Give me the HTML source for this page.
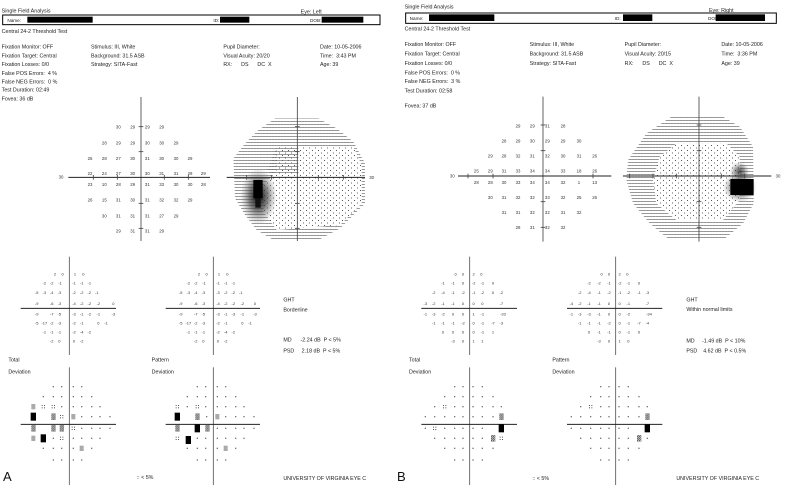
<!DOCTYPE html>
<html><head><meta charset="utf-8"><style>
html,body{margin:0;padding:0;background:#fff;}
svg{display:block;font-family:"Liberation Sans",sans-serif;}
text{fill:#222;white-space:pre;}
.h{font-size:16px;}
.n{font-size:13px;text-anchor:middle;fill:#333;}
.v{font-size:12px;text-anchor:middle;fill:#333;}
</style></head><body>
<svg width="785" height="485" viewBox="0 0 785 485" xmlns="http://www.w3.org/2000/svg">
<defs>
<pattern id="pd" width="9" height="9" patternUnits="userSpaceOnUse"><rect x="0" y="0" width="2.5" height="2.5" fill="#666"/><rect x="3" y="0" width="2.5" height="2.5" fill="#777"/><rect x="6" y="0" width="2.5" height="2.5" fill="#666"/></pattern>
<pattern id="ps" width="18" height="15" patternUnits="userSpaceOnUse"><rect x="0" y="0" width="3" height="3" fill="#555"/><rect x="9" y="7.5" width="3" height="3" fill="#666"/></pattern>
<pattern id="pk" width="6" height="6" patternUnits="userSpaceOnUse"><rect width="3" height="3" fill="#111"/><rect x="3" y="3" width="3" height="3" fill="#333"/></pattern>
<radialGradient id="blob"><stop offset="0" stop-color="#000"/><stop offset="0.5" stop-color="#444" stop-opacity="0.7"/><stop offset="1" stop-color="#888" stop-opacity="0"/></radialGradient>
<g id="d"><rect x="-2" y="-2" width="4" height="4" fill="#777"/></g>
<g id="c"><rect x="-5" y="-5" width="3" height="3" fill="#555"/><rect x="2" y="-5" width="3" height="3" fill="#555"/><rect x="-5" y="2" width="3" height="3" fill="#555"/><rect x="2" y="2" width="3" height="3" fill="#555"/></g>
<g id="k"><rect x="-6" y="-8" width="12" height="16" fill="#aaa"/></g>
<g id="hv"><rect x="-6" y="-10" width="13" height="20" fill="url(#pk)"/></g>
<g id="b"><rect x="-8" y="-12" width="16" height="24" fill="#000"/></g>
</defs>

<!-- ================= LEFT PANEL ================= -->
<g transform="scale(0.33333)">
<text class="h" x="5" y="37">Single Field Analysis</text>
<text class="h" x="902" y="40">Eye: Left</text>
<rect x="8" y="45" width="1132" height="29" fill="none" stroke="#000" stroke-width="3"/>
<text class="h" x="22" y="66" style="font-size:14px">Name:</text>
<rect x="82" y="50" width="196" height="18" fill="#000"/>
<text class="h" x="640" y="66" style="font-size:14px">ID:</text>
<rect x="660" y="50" width="88" height="18" fill="#000"/>
<text class="h" x="930" y="66" style="font-size:14px">DOB:</text>
<rect x="965" y="50" width="125" height="18" fill="#000"/>
<text class="h" x="5" y="99">Central 24-2 Threshold Test</text>
<text class="h" x="5" y="145">Fixation Monitor: OFF</text>
<text class="h" x="5" y="172">Fixation Target: Central</text>
<text class="h" x="5" y="198">Fixation Losses: 0/0</text>
<text class="h" x="5" y="225">False POS Errors:  4 %</text>
<text class="h" x="5" y="250">False NEG Errors:  0 %</text>
<text class="h" x="5" y="275">Test Duration: 02:49</text>
<text class="h" x="5" y="302">Fovea: 36 dB</text>
<text class="h" x="273" y="145">Stimulus: III, White</text>
<text class="h" x="273" y="172">Background: 31.5 ASB</text>
<text class="h" x="273" y="198">Strategy: SITA-Fast</text>
<text class="h" x="670" y="145">Pupil Diameter:</text>
<text class="h" x="670" y="172">Visual Acuity: 20/20</text>
<text class="h" x="670" y="198">RX:      DS      DC  X</text>
<text class="h" x="960" y="145">Date: 10-05-2006</text>
<text class="h" x="960" y="172">Time:  3:43 PM</text>
<text class="h" x="960" y="198">Age: 39</text>
</g>

<g transform="translate(60,115) scale(0.33333)">
<line x1="243" y1="-54" x2="243" y2="378" stroke="#444" stroke-width="2.5"/>
<line x1="25" y1="187" x2="450" y2="187" stroke="#222" stroke-width="3"/>
<g stroke="#444" stroke-width="2.5"><line x1="100" y1="180" x2="100" y2="194"/><line x1="172" y1="180" x2="172" y2="194"/><line x1="313" y1="180" x2="313" y2="194"/><line x1="385" y1="180" x2="385" y2="194"/><line x1="236" y1="35" x2="250" y2="35"/><line x1="236" y1="110" x2="250" y2="110"/><line x1="236" y1="265" x2="250" y2="265"/><line x1="236" y1="340" x2="250" y2="340"/></g>
<text class="n" x="3" y="191">30</text>
<text class="n" x="175" y="40">30</text><text class="n" x="218" y="40">29</text><text class="n" x="262" y="40">29</text><text class="n" x="305" y="40">29</text>
<text class="n" x="133" y="88">28</text><text class="n" x="175" y="88">29</text><text class="n" x="218" y="88">29</text><text class="n" x="262" y="88">30</text><text class="n" x="305" y="88">30</text><text class="n" x="348" y="88">29</text>
<text class="n" x="90" y="135">25</text><text class="n" x="133" y="135">28</text><text class="n" x="175" y="135">27</text><text class="n" x="218" y="135">30</text><text class="n" x="262" y="135">31</text><text class="n" x="305" y="135">30</text><text class="n" x="348" y="135">30</text><text class="n" x="390" y="135">29</text>
<text class="n" x="90" y="180">22</text><text class="n" x="133" y="180">24</text><text class="n" x="175" y="180">27</text><text class="n" x="218" y="180">30</text><text class="n" x="262" y="180">30</text><text class="n" x="305" y="180">31</text><text class="n" x="348" y="180">31</text><text class="n" x="390" y="180">29</text><text class="n" x="430" y="180">29</text>
<text class="n" x="90" y="213">23</text><text class="n" x="133" y="213">10</text><text class="n" x="175" y="213">28</text><text class="n" x="218" y="213">29</text><text class="n" x="262" y="213">31</text><text class="n" x="305" y="213">33</text><text class="n" x="348" y="213">30</text><text class="n" x="390" y="213">30</text><text class="n" x="430" y="213">28</text>
<text class="n" x="90" y="260">26</text><text class="n" x="133" y="260">15</text><text class="n" x="175" y="260">31</text><text class="n" x="218" y="260">30</text><text class="n" x="262" y="260">31</text><text class="n" x="305" y="260">32</text><text class="n" x="348" y="260">32</text><text class="n" x="390" y="260">29</text>
<text class="n" x="133" y="307">30</text><text class="n" x="175" y="307">31</text><text class="n" x="218" y="307">31</text><text class="n" x="262" y="307">31</text><text class="n" x="305" y="307">27</text><text class="n" x="348" y="307">29</text>
<text class="n" x="175" y="353">29</text><text class="n" x="218" y="353">31</text><text class="n" x="262" y="353">31</text><text class="n" x="305" y="353">29</text>

<polygon points="645,10 775,10 830,40 880,80 915,145 915,265 880,300 840,340 775,375 640,375 590,345 555,300 525,250 520,130 555,85 595,45" fill="url(#pd)"/>
<polygon points="650,95 880,95 905,150 905,265 840,330 650,345 610,290 610,210 650,170" fill="#fff"/>
<polygon points="650,95 880,95 905,150 905,265 840,330 650,345 610,290 610,210 650,170" fill="url(#ps)"/>
<polygon points="650,95 715,95 715,180 650,180 620,170" fill="url(#pd)"/>
<ellipse cx="595" cy="245" rx="55" ry="85" fill="url(#blob)"/>
<rect x="580" y="195" width="28" height="55" fill="#000"/>
<rect x="586" y="250" width="16" height="28" fill="#111"/>
<line x1="712" y1="-54" x2="712" y2="378" stroke="#444" stroke-width="2.5"/>
<line x1="500" y1="187" x2="915" y2="187" stroke="#222" stroke-width="3"/>
<g stroke="#444" stroke-width="2.5"><line x1="560" y1="180" x2="560" y2="194"/><line x1="635" y1="180" x2="635" y2="194"/><line x1="775" y1="180" x2="775" y2="194"/><line x1="850" y1="180" x2="850" y2="194"/><line x1="705" y1="35" x2="719" y2="35"/><line x1="705" y1="110" x2="719" y2="110"/><line x1="705" y1="265" x2="719" y2="265"/><line x1="705" y1="340" x2="719" y2="340"/></g>
<text class="n" x="935" y="192">30</text>
</g>

<g transform="translate(0,260) scale(0.33333)">
<line x1="208" y1="-10" x2="208" y2="285" stroke="#555" stroke-width="2.5"/>
<line x1="208" y1="322" x2="208" y2="675" stroke="#555" stroke-width="2.5"/>
<line x1="62" y1="145" x2="348" y2="145" stroke="#222" stroke-width="3"/>
<line x1="62" y1="493" x2="348" y2="493" stroke="#222" stroke-width="3"/>
<line x1="640" y1="-10" x2="640" y2="285" stroke="#555" stroke-width="2.5"/>
<line x1="640" y1="322" x2="640" y2="675" stroke="#555" stroke-width="2.5"/>
<line x1="497" y1="145" x2="780" y2="145" stroke="#222" stroke-width="3"/>
<line x1="497" y1="493" x2="780" y2="493" stroke="#222" stroke-width="3"/>

<text class="v" x="165" y="47">2</text><text class="v" x="188" y="47">0</text><text class="v" x="225" y="47">1</text><text class="v" x="250" y="47">0</text>
<text class="v" x="133" y="73">-2</text><text class="v" x="155" y="73">-2</text><text class="v" x="180" y="73">-1</text><text class="v" x="222" y="73">-1</text><text class="v" x="245" y="73">-1</text><text class="v" x="268" y="73">-1</text>
<text class="v" x="110" y="102">-5</text><text class="v" x="133" y="102">-3</text><text class="v" x="155" y="102">-4</text><text class="v" x="178" y="102">-3</text><text class="v" x="222" y="102">-2</text><text class="v" x="245" y="102">-2</text><text class="v" x="268" y="102">-2</text><text class="v" x="290" y="102">-1</text>
<text class="v" x="110" y="135">-9</text><text class="v" x="155" y="135">-6</text><text class="v" x="178" y="135">-3</text><text class="v" x="222" y="135">-4</text><text class="v" x="245" y="135">-2</text><text class="v" x="268" y="135">-2</text><text class="v" x="295" y="135">-2</text><text class="v" x="340" y="135">0</text>
<text class="v" x="110" y="167">-9</text><text class="v" x="155" y="167">-7</text><text class="v" x="178" y="167">-5</text><text class="v" x="222" y="167">-3</text><text class="v" x="245" y="167">-1</text><text class="v" x="268" y="167">-2</text><text class="v" x="295" y="167">-1</text><text class="v" x="340" y="167">-3</text>
<text class="v" x="110" y="193">-5</text><text class="v" x="133" y="193">-17</text><text class="v" x="155" y="193">-2</text><text class="v" x="178" y="193">-3</text><text class="v" x="222" y="193">-2</text><text class="v" x="245" y="193">-1</text><text class="v" x="295" y="193">0</text><text class="v" x="318" y="193">-1</text>
<text class="v" x="133" y="220">-1</text><text class="v" x="155" y="220">-1</text><text class="v" x="178" y="220">-1</text><text class="v" x="222" y="220">-2</text><text class="v" x="245" y="220">-4</text><text class="v" x="268" y="220">-2</text>
<text class="v" x="155" y="248">-2</text><text class="v" x="178" y="248">0</text><text class="v" x="222" y="248">0</text><text class="v" x="245" y="248">-2</text>

<text class="v" x="597" y="47">2</text><text class="v" x="620" y="47">0</text><text class="v" x="657" y="47">1</text><text class="v" x="682" y="47">0</text>
<text class="v" x="565" y="73">-2</text><text class="v" x="587" y="73">-2</text><text class="v" x="612" y="73">-1</text><text class="v" x="654" y="73">-1</text><text class="v" x="677" y="73">-1</text><text class="v" x="700" y="73">-1</text>
<text class="v" x="542" y="102">-5</text><text class="v" x="565" y="102">-3</text><text class="v" x="587" y="102">-4</text><text class="v" x="610" y="102">-3</text><text class="v" x="654" y="102">-3</text><text class="v" x="677" y="102">-2</text><text class="v" x="700" y="102">-2</text><text class="v" x="722" y="102">-1</text>
<text class="v" x="542" y="135">-9</text><text class="v" x="587" y="135">-6</text><text class="v" x="610" y="135">-3</text><text class="v" x="654" y="135">-4</text><text class="v" x="677" y="135">-2</text><text class="v" x="700" y="135">-2</text><text class="v" x="727" y="135">-2</text><text class="v" x="765" y="135">0</text>
<text class="v" x="542" y="167">-9</text><text class="v" x="587" y="167">-7</text><text class="v" x="610" y="167">-5</text><text class="v" x="654" y="167">-3</text><text class="v" x="677" y="167">-1</text><text class="v" x="700" y="167">-3</text><text class="v" x="727" y="167">-1</text><text class="v" x="765" y="167">-3</text>
<text class="v" x="542" y="193">-5</text><text class="v" x="565" y="193">-17</text><text class="v" x="587" y="193">-2</text><text class="v" x="610" y="193">-3</text><text class="v" x="654" y="193">-2</text><text class="v" x="677" y="193">-1</text><text class="v" x="727" y="193">0</text><text class="v" x="750" y="193">-1</text>
<text class="v" x="565" y="220">-1</text><text class="v" x="587" y="220">-1</text><text class="v" x="610" y="220">-1</text><text class="v" x="654" y="220">-2</text><text class="v" x="677" y="220">-4</text><text class="v" x="700" y="220">-2</text>
<text class="v" x="587" y="248">-2</text><text class="v" x="610" y="248">0</text><text class="v" x="654" y="248">0</text><text class="v" x="677" y="248">-2</text>

<text class="h" x="850" y="125">GHT</text>
<text class="h" x="850" y="155">Borderline</text>
<text class="h" x="850" y="245">MD      -2.24 dB  P &lt; 5%</text>
<text class="h" x="850" y="277">PSD     2.18 dB  P &lt; 5%</text>
<text class="h" x="25" y="305">Total</text><text class="h" x="25" y="340">Deviation</text>
<text class="h" x="455" y="305">Pattern</text><text class="h" x="455" y="340">Deviation</text>
<text class="h" x="410" y="657">:: &lt; 5%</text>
<text class="h" x="850" y="660">UNIVERSITY OF VIRGINIA EYE C</text>

<use href="#d" x="160" y="380"/><use href="#d" x="185" y="380"/><use href="#d" x="220" y="380"/><use href="#d" x="245" y="380"/>
<use href="#d" x="130" y="410"/><use href="#d" x="160" y="410"/><use href="#d" x="185" y="410"/><use href="#d" x="220" y="410"/><use href="#d" x="245" y="410"/><use href="#d" x="275" y="410"/>
<use href="#k" x="100" y="440"/><use href="#c" x="130" y="440"/><use href="#c" x="160" y="440"/><use href="#d" x="185" y="440"/><use href="#d" x="220" y="440"/><use href="#d" x="245" y="440"/><use href="#d" x="275" y="440"/><use href="#d" x="300" y="440"/>
<use href="#b" x="100" y="470"/><use href="#hv" x="160" y="470"/><use href="#c" x="185" y="470"/><use href="#k" x="220" y="470"/><use href="#d" x="245" y="470"/><use href="#d" x="275" y="470"/><use href="#d" x="300" y="470"/><use href="#d" x="330" y="470"/>
<use href="#hv" x="100" y="505"/><use href="#hv" x="160" y="505"/><use href="#hv" x="185" y="505"/><use href="#c" x="220" y="505"/><use href="#d" x="245" y="505"/><use href="#d" x="275" y="505"/><use href="#d" x="300" y="505"/><use href="#d" x="330" y="505"/>
<use href="#k" x="100" y="535"/><use href="#b" x="130" y="535"/><use href="#d" x="160" y="535"/><use href="#c" x="185" y="535"/><use href="#d" x="220" y="535"/><use href="#d" x="245" y="535"/><use href="#d" x="275" y="535"/><use href="#d" x="300" y="535"/>
<use href="#d" x="130" y="565"/><use href="#d" x="160" y="565"/><use href="#d" x="185" y="565"/><use href="#d" x="220" y="565"/><use href="#k" x="245" y="565"/><use href="#d" x="275" y="565"/>
<use href="#d" x="160" y="600"/><use href="#d" x="185" y="600"/><use href="#d" x="220" y="600"/><use href="#d" x="245" y="600"/>

<use href="#d" x="592" y="380"/><use href="#d" x="617" y="380"/><use href="#d" x="652" y="380"/><use href="#d" x="677" y="380"/>
<use href="#d" x="562" y="410"/><use href="#d" x="592" y="410"/><use href="#d" x="617" y="410"/><use href="#d" x="652" y="410"/><use href="#d" x="677" y="410"/><use href="#d" x="707" y="410"/>
<use href="#c" x="532" y="440"/><use href="#d" x="562" y="440"/><use href="#c" x="592" y="440"/><use href="#d" x="617" y="440"/><use href="#d" x="652" y="440"/><use href="#d" x="677" y="440"/><use href="#d" x="707" y="440"/><use href="#d" x="732" y="440"/>
<use href="#b" x="532" y="470"/><use href="#hv" x="592" y="470"/><use href="#d" x="620" y="470"/><use href="#k" x="652" y="470"/><use href="#d" x="677" y="470"/><use href="#d" x="707" y="470"/><use href="#d" x="732" y="470"/><use href="#d" x="762" y="470"/>
<use href="#hv" x="532" y="505"/><use href="#b" x="592" y="505"/><use href="#hv" x="622" y="505"/><use href="#d" x="652" y="505"/><use href="#d" x="677" y="505"/><use href="#d" x="707" y="505"/><use href="#d" x="732" y="505"/><use href="#d" x="762" y="505"/>
<use href="#c" x="532" y="535"/><use href="#b" x="565" y="540"/><use href="#d" x="592" y="535"/><use href="#d" x="617" y="535"/><use href="#d" x="652" y="535"/><use href="#d" x="677" y="535"/><use href="#d" x="707" y="535"/><use href="#d" x="732" y="535"/>
<use href="#d" x="562" y="565"/><use href="#d" x="592" y="565"/><use href="#d" x="617" y="565"/><use href="#d" x="652" y="565"/><use href="#k" x="677" y="565"/><use href="#d" x="707" y="565"/>
<use href="#d" x="592" y="600"/><use href="#d" x="617" y="600"/><use href="#d" x="652" y="600"/><use href="#d" x="677" y="600"/>
</g>
<text x="3" y="481" style="font-size:13px;fill:#111">A</text>

<!-- ================= RIGHT PANEL ================= -->
<g transform="translate(393,0) scale(0.33333)">
<text class="h" x="35" y="26">Single Field Analysis</text>
<text class="h" x="948" y="36">Eye: Right</text>
<rect x="38" y="39" width="1112" height="31" fill="none" stroke="#000" stroke-width="3"/>
<text class="h" x="50" y="60" style="font-size:14px">Name:</text>
<rect x="108" y="43" width="196" height="20" fill="#000"/>
<text class="h" x="665" y="60" style="font-size:14px">ID:</text>
<rect x="690" y="43" width="88" height="20" fill="#000"/>
<text class="h" x="945" y="60" style="font-size:14px">DOB:</text>
<rect x="968" y="43" width="148" height="20" fill="#000"/>
<text class="h" x="35" y="91">Central 24-2 Threshold Test</text>
<text class="h" x="35" y="138">Fixation Monitor: OFF</text>
<text class="h" x="35" y="167">Fixation Target: Central</text>
<text class="h" x="35" y="195">Fixation Losses: 0/0</text>
<text class="h" x="35" y="223">False POS Errors:  0 %</text>
<text class="h" x="35" y="249">False NEG Errors:  3 %</text>
<text class="h" x="35" y="277">Test Duration: 02:58</text>
<text class="h" x="35" y="323">Fovea: 37 dB</text>
<text class="h" x="410" y="138">Stimulus: III, White</text>
<text class="h" x="410" y="167">Background: 31.5 ASB</text>
<text class="h" x="410" y="195">Strategy: SITA-Fast</text>
<text class="h" x="695" y="138">Pupil Diameter:</text>
<text class="h" x="695" y="167">Visual Acuity: 20/15</text>
<text class="h" x="695" y="195">RX:      DS      DC  X</text>
<text class="h" x="985" y="138">Date: 10-05-2006</text>
<text class="h" x="985" y="167">Time:  3:36 PM</text>
<text class="h" x="985" y="195">Age: 39</text>

<line x1="450" y1="290" x2="450" y2="725" stroke="#444" stroke-width="2.5"/>
<line x1="195" y1="528" x2="655" y2="528" stroke="#222" stroke-width="3"/>
<g stroke="#444" stroke-width="2.5"><line x1="225" y1="521" x2="225" y2="535"/><line x1="300" y1="521" x2="300" y2="535"/><line x1="600" y1="521" x2="600" y2="535"/><line x1="443" y1="375" x2="457" y2="375"/><line x1="443" y1="452" x2="457" y2="452"/><line x1="443" y1="605" x2="457" y2="605"/><line x1="443" y1="682" x2="457" y2="682"/></g>
<text class="n" x="178" y="533">30</text>
<text class="n" x="375" y="383">29</text><text class="n" x="418" y="383">29</text><text class="n" x="463" y="383">31</text><text class="n" x="510" y="383">28</text>
<text class="n" x="333" y="427">28</text><text class="n" x="375" y="427">29</text><text class="n" x="418" y="427">30</text><text class="n" x="463" y="427">29</text><text class="n" x="510" y="427">29</text><text class="n" x="558" y="427">30</text>
<text class="n" x="292" y="473">29</text><text class="n" x="333" y="473">28</text><text class="n" x="375" y="473">32</text><text class="n" x="418" y="473">31</text><text class="n" x="463" y="473">32</text><text class="n" x="510" y="473">30</text><text class="n" x="558" y="473">31</text><text class="n" x="605" y="473">26</text>
<text class="n" x="250" y="518">25</text><text class="n" x="292" y="518">29</text><text class="n" x="333" y="518">31</text><text class="n" x="375" y="518">33</text><text class="n" x="418" y="518">34</text><text class="n" x="463" y="518">34</text><text class="n" x="510" y="518">33</text><text class="n" x="558" y="518">18</text><text class="n" x="605" y="518">26</text>
<text class="n" x="250" y="552">28</text><text class="n" x="292" y="552">28</text><text class="n" x="333" y="552">30</text><text class="n" x="375" y="552">33</text><text class="n" x="418" y="552">34</text><text class="n" x="463" y="552">34</text><text class="n" x="510" y="552">32</text><text class="n" x="558" y="552">1</text><text class="n" x="605" y="552">13</text>
<text class="n" x="292" y="597">30</text><text class="n" x="333" y="597">31</text><text class="n" x="375" y="597">32</text><text class="n" x="418" y="597">32</text><text class="n" x="463" y="597">33</text><text class="n" x="510" y="597">32</text><text class="n" x="558" y="597">25</text><text class="n" x="605" y="597">26</text>
<text class="n" x="333" y="642">31</text><text class="n" x="375" y="642">31</text><text class="n" x="418" y="642">32</text><text class="n" x="463" y="642">32</text><text class="n" x="510" y="642">31</text><text class="n" x="558" y="642">32</text>
<text class="n" x="375" y="687">28</text><text class="n" x="418" y="687">31</text><text class="n" x="463" y="687">32</text><text class="n" x="510" y="687">32</text>

<polygon points="835,350 990,350 1040,380 1080,440 1082,610 1050,670 990,720 830,720 770,670 720,610 700,540 705,480 760,400" fill="url(#pd)"/>
<polygon points="850,430 1000,430 1040,470 1040,600 990,660 850,660 790,610 780,540 800,470" fill="#fff"/>
<polygon points="850,430 1000,430 1040,470 1040,600 990,660 850,660 790,610 780,540 800,470" fill="url(#ps)"/>
<ellipse cx="1040" cy="515" rx="30" ry="30" fill="url(#blob)" opacity="0.7"/>
<ellipse cx="1040" cy="562" rx="50" ry="45" fill="url(#blob)" opacity="0.8"/>
<rect x="1012" y="537" width="70" height="48" fill="#000"/>
<line x1="918" y1="290" x2="918" y2="725" stroke="#444" stroke-width="2.5"/>
<line x1="690" y1="528" x2="1135" y2="528" stroke="#222" stroke-width="3"/>
<g stroke="#444" stroke-width="2.5"><line x1="710" y1="521" x2="710" y2="535"/><line x1="780" y1="521" x2="780" y2="535"/><line x1="850" y1="521" x2="850" y2="535"/><line x1="985" y1="521" x2="985" y2="535"/><line x1="1055" y1="521" x2="1055" y2="535"/><line x1="911" y1="375" x2="925" y2="375"/><line x1="911" y1="452" x2="925" y2="452"/><line x1="911" y1="605" x2="925" y2="605"/><line x1="911" y1="682" x2="925" y2="682"/></g>
<text class="n" x="1155" y="533">30</text>
</g>

<g transform="translate(393,260) scale(0.33333)">
<line x1="230" y1="-10" x2="230" y2="285" stroke="#555" stroke-width="2.5"/>
<line x1="230" y1="322" x2="230" y2="675" stroke="#555" stroke-width="2.5"/>
<line x1="85" y1="145" x2="372" y2="145" stroke="#222" stroke-width="3"/>
<line x1="85" y1="493" x2="372" y2="493" stroke="#222" stroke-width="3"/>
<line x1="668" y1="-10" x2="668" y2="285" stroke="#555" stroke-width="2.5"/>
<line x1="668" y1="322" x2="668" y2="675" stroke="#555" stroke-width="2.5"/>
<line x1="522" y1="145" x2="808" y2="145" stroke="#222" stroke-width="3"/>
<line x1="522" y1="493" x2="808" y2="493" stroke="#222" stroke-width="3"/>

<text class="v" x="188" y="47">0</text><text class="v" x="210" y="47">0</text><text class="v" x="242" y="47">2</text><text class="v" x="265" y="47">0</text>
<text class="v" x="150" y="73">-1</text><text class="v" x="180" y="73">-1</text><text class="v" x="210" y="73">0</text><text class="v" x="242" y="73">-2</text><text class="v" x="268" y="73">-1</text><text class="v" x="300" y="73">0</text>
<text class="v" x="122" y="102">-2</text><text class="v" x="150" y="102">-4</text><text class="v" x="180" y="102">-1</text><text class="v" x="210" y="102">-2</text><text class="v" x="242" y="102">-1</text><text class="v" x="268" y="102">-2</text><text class="v" x="300" y="102">0</text><text class="v" x="325" y="102">-2</text>
<text class="v" x="97" y="135">-3</text><text class="v" x="122" y="135">-2</text><text class="v" x="150" y="135">-1</text><text class="v" x="180" y="135">-1</text><text class="v" x="210" y="135">0</text><text class="v" x="242" y="135">0</text><text class="v" x="268" y="135">0</text><text class="v" x="325" y="135">-7</text>
<text class="v" x="97" y="167">-1</text><text class="v" x="122" y="167">-3</text><text class="v" x="150" y="167">-2</text><text class="v" x="180" y="167">0</text><text class="v" x="210" y="167">0</text><text class="v" x="242" y="167">1</text><text class="v" x="268" y="167">-1</text><text class="v" x="330" y="167">-33</text>
<text class="v" x="122" y="193">-1</text><text class="v" x="150" y="193">-1</text><text class="v" x="180" y="193">-1</text><text class="v" x="210" y="193">-2</text><text class="v" x="242" y="193">0</text><text class="v" x="268" y="193">-1</text><text class="v" x="300" y="193">-7</text><text class="v" x="325" y="193">-3</text>
<text class="v" x="150" y="220">0</text><text class="v" x="180" y="220">0</text><text class="v" x="210" y="220">0</text><text class="v" x="242" y="220">0</text><text class="v" x="268" y="220">-1</text><text class="v" x="300" y="220">1</text>
<text class="v" x="180" y="248">-3</text><text class="v" x="210" y="248">0</text><text class="v" x="242" y="248">1</text><text class="v" x="268" y="248">1</text>

<text class="v" x="626" y="47">0</text><text class="v" x="648" y="47">0</text><text class="v" x="680" y="47">2</text><text class="v" x="703" y="47">0</text>
<text class="v" x="588" y="73">-2</text><text class="v" x="618" y="73">-2</text><text class="v" x="648" y="73">-1</text><text class="v" x="680" y="73">-2</text><text class="v" x="706" y="73">-1</text><text class="v" x="738" y="73">0</text>
<text class="v" x="560" y="102">-2</text><text class="v" x="588" y="102">-4</text><text class="v" x="618" y="102">-1</text><text class="v" x="648" y="102">-2</text><text class="v" x="680" y="102">-1</text><text class="v" x="706" y="102">-2</text><text class="v" x="738" y="102">-1</text><text class="v" x="763" y="102">-3</text>
<text class="v" x="535" y="135">-4</text><text class="v" x="560" y="135">-2</text><text class="v" x="588" y="135">-1</text><text class="v" x="618" y="135">-1</text><text class="v" x="648" y="135">0</text><text class="v" x="680" y="135">0</text><text class="v" x="706" y="135">-1</text><text class="v" x="763" y="135">-7</text>
<text class="v" x="535" y="167">-1</text><text class="v" x="560" y="167">-3</text><text class="v" x="588" y="167">-3</text><text class="v" x="618" y="167">-1</text><text class="v" x="648" y="167">0</text><text class="v" x="680" y="167">0</text><text class="v" x="706" y="167">-2</text><text class="v" x="768" y="167">-34</text>
<text class="v" x="560" y="193">-1</text><text class="v" x="588" y="193">-1</text><text class="v" x="618" y="193">-1</text><text class="v" x="648" y="193">-2</text><text class="v" x="680" y="193">0</text><text class="v" x="706" y="193">-1</text><text class="v" x="738" y="193">-7</text><text class="v" x="763" y="193">-4</text>
<text class="v" x="588" y="220">0</text><text class="v" x="618" y="220">-1</text><text class="v" x="648" y="220">-1</text><text class="v" x="680" y="220">0</text><text class="v" x="706" y="220">-1</text><text class="v" x="738" y="220">0</text>
<text class="v" x="618" y="248">-3</text><text class="v" x="648" y="248">0</text><text class="v" x="680" y="248">1</text><text class="v" x="706" y="248">0</text>

<text class="h" x="880" y="125">GHT</text>
<text class="h" x="880" y="153">Within normal limits</text>
<text class="h" x="880" y="247">MD     -1.49 dB  P &lt; 10%</text>
<text class="h" x="880" y="277">PSD    4.62 dB  P &lt; 0.5%</text>
<text class="h" x="48" y="305">Total</text><text class="h" x="48" y="340">Deviation</text>
<text class="h" x="478" y="305">Pattern</text><text class="h" x="478" y="340">Deviation</text>
<text class="h" x="418" y="660">:: &lt; 5%</text>
<text class="h" x="850" y="660">UNIVERSITY OF VIRGINIA EYE C</text>

<use href="#d" x="185" y="380"/><use href="#d" x="210" y="380"/><use href="#d" x="240" y="380"/><use href="#d" x="268" y="380"/>
<use href="#d" x="155" y="410"/><use href="#d" x="185" y="410"/><use href="#d" x="210" y="410"/><use href="#d" x="240" y="410"/><use href="#d" x="268" y="410"/><use href="#d" x="300" y="410"/>
<use href="#d" x="125" y="440"/><use href="#c" x="155" y="440"/><use href="#d" x="185" y="440"/><use href="#d" x="210" y="440"/><use href="#d" x="240" y="440"/><use href="#d" x="268" y="440"/><use href="#d" x="300" y="440"/><use href="#d" x="325" y="440"/>
<use href="#d" x="97" y="470"/><use href="#d" x="125" y="470"/><use href="#d" x="155" y="470"/><use href="#d" x="185" y="470"/><use href="#d" x="210" y="470"/><use href="#d" x="240" y="470"/><use href="#d" x="268" y="470"/><use href="#d" x="300" y="470"/><use href="#hv" x="325" y="470"/>
<use href="#d" x="97" y="505"/><use href="#c" x="125" y="505"/><use href="#d" x="155" y="505"/><use href="#d" x="185" y="505"/><use href="#d" x="210" y="505"/><use href="#d" x="240" y="505"/><use href="#d" x="268" y="505"/><use href="#b" x="325" y="505"/>
<use href="#d" x="125" y="535"/><use href="#d" x="155" y="535"/><use href="#d" x="185" y="535"/><use href="#d" x="210" y="535"/><use href="#d" x="240" y="535"/><use href="#d" x="268" y="535"/><use href="#hv" x="300" y="535"/><use href="#c" x="325" y="535"/>
<use href="#d" x="155" y="565"/><use href="#d" x="185" y="565"/><use href="#d" x="210" y="565"/><use href="#d" x="240" y="565"/><use href="#d" x="268" y="565"/><use href="#d" x="300" y="565"/>
<use href="#d" x="185" y="600"/><use href="#d" x="210" y="600"/><use href="#d" x="240" y="600"/><use href="#d" x="268" y="600"/>

<use href="#d" x="623" y="380"/><use href="#d" x="648" y="380"/><use href="#d" x="678" y="380"/><use href="#d" x="706" y="380"/>
<use href="#d" x="593" y="410"/><use href="#d" x="623" y="410"/><use href="#d" x="648" y="410"/><use href="#d" x="678" y="410"/><use href="#d" x="706" y="410"/><use href="#d" x="738" y="410"/>
<use href="#d" x="563" y="440"/><use href="#c" x="593" y="440"/><use href="#d" x="623" y="440"/><use href="#d" x="648" y="440"/><use href="#d" x="678" y="440"/><use href="#d" x="706" y="440"/><use href="#d" x="738" y="440"/><use href="#d" x="763" y="440"/>
<use href="#d" x="535" y="470"/><use href="#d" x="563" y="470"/><use href="#d" x="593" y="470"/><use href="#d" x="623" y="470"/><use href="#d" x="648" y="470"/><use href="#d" x="678" y="470"/><use href="#d" x="706" y="470"/><use href="#d" x="738" y="470"/><use href="#hv" x="763" y="470"/>
<use href="#d" x="535" y="505"/><use href="#d" x="563" y="505"/><use href="#d" x="593" y="505"/><use href="#d" x="623" y="505"/><use href="#d" x="648" y="505"/><use href="#d" x="678" y="505"/><use href="#d" x="706" y="505"/><use href="#b" x="763" y="505"/>
<use href="#d" x="563" y="535"/><use href="#d" x="593" y="535"/><use href="#d" x="623" y="535"/><use href="#d" x="648" y="535"/><use href="#d" x="678" y="535"/><use href="#d" x="706" y="535"/><use href="#hv" x="738" y="535"/><use href="#d" x="763" y="535"/>
<use href="#d" x="593" y="565"/><use href="#d" x="623" y="565"/><use href="#d" x="648" y="565"/><use href="#d" x="678" y="565"/><use href="#d" x="706" y="565"/><use href="#d" x="738" y="565"/>
<use href="#d" x="623" y="600"/><use href="#d" x="648" y="600"/><use href="#d" x="678" y="600"/><use href="#d" x="706" y="600"/>
</g>
<text x="397" y="481" style="font-size:13px;fill:#111">B</text>
</svg>
</body></html>
